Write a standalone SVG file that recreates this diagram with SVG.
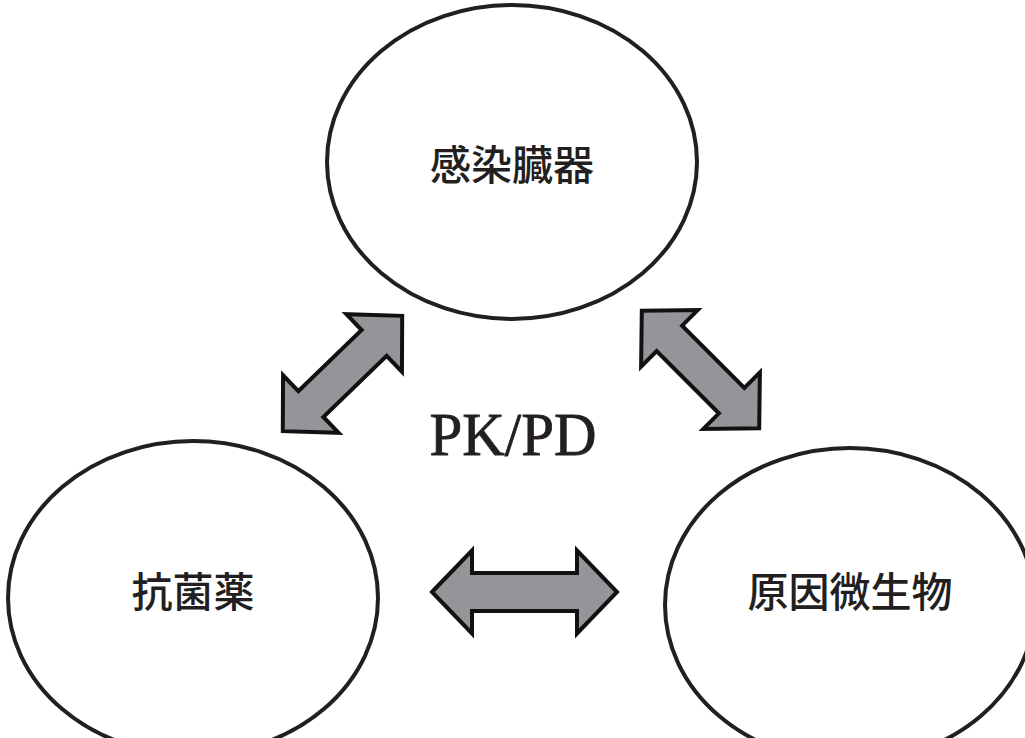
<svg xmlns="http://www.w3.org/2000/svg" width="1025" height="738" viewBox="0 0 1025 738">
<style>
.node ellipse{fill:#fff;stroke:#231f20;stroke-width:4}
.node text{font-family:"Noto Sans CJK JP","Noto Sans CJK SC",sans-serif;font-size:41px;font-weight:500;fill:#231f20;text-anchor:middle}
.arr{fill:#939598;stroke:#111;stroke-width:4;stroke-linejoin:miter}
.pk{font-family:"Liberation Serif","DejaVu Serif",serif;font-size:62px;fill:#231f20;stroke:#231f20;stroke-width:0.8;text-anchor:middle}
</style>
<defs>
<path id="a185" d="M-92.5 0 L-52.5 -41.5 L-52.5 -19 L52.5 -19 L52.5 -41.5 L92.5 0 L52.5 41.5 L52.5 19 L-52.5 19 L-52.5 41.5 Z"/>
<path id="a166" d="M-83 0 L-44 -40 L-44 -18 L44 -18 L44 -40 L83 0 L44 40 L44 18 L-44 18 L-44 40 Z"/>
</defs>
<rect width="1025" height="738" fill="#fff"/>
<g id="node-organ" class="node">
<ellipse cx="512" cy="162" rx="185" ry="157"/>
<text x="512" y="180">感染臓器</text>
</g>
<g id="node-drug" class="node">
<ellipse cx="193" cy="598" rx="185" ry="157"/>
<text x="193" y="607">抗菌薬</text>
</g>
<g id="node-pathogen" class="node">
<ellipse cx="850" cy="605" rx="185" ry="157"/>
<text x="850" y="607">原因微生物</text>
</g>
<g id="connectors">
<use href="#a185" class="arr" transform="translate(524.5 592)"/>
<use href="#a166" class="arr" transform="translate(342.5 373.5) rotate(-44)"/>
<use href="#a166" class="arr" transform="translate(700.5 369.5) rotate(45)"/>
</g>
<text class="pk" x="513" y="455" textLength="167" lengthAdjust="spacingAndGlyphs">PK/PD</text>
</svg>
